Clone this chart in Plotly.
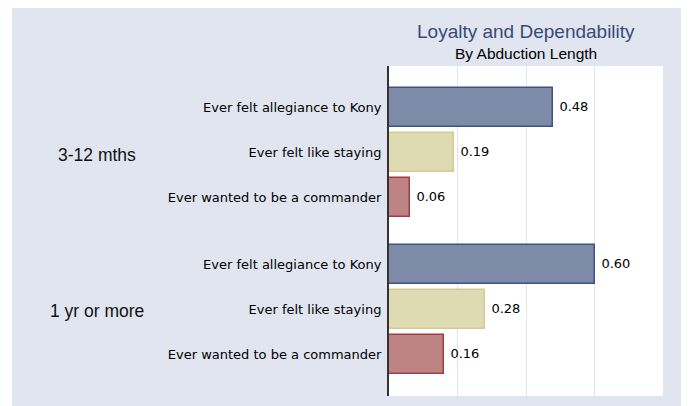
import plotly.graph_objects as go

groups = ["3-12 mths", "1 yr or more"]
items = ["Ever felt allegiance to Kony", "Ever felt like staying", "Ever wanted to be a commander"]
values = {
    "Ever felt allegiance to Kony": [0.48, 0.60],
    "Ever felt like staying": [0.19, 0.28],
    "Ever wanted to be a commander": [0.06, 0.16],
}
fills = ["#7D8AA8", "#DEDAB1", "#BE8484"]
borders = ["#3E5283", "#D2CB93", "#A63A44"]

GROUP_STEP = len(items) + 0.5
def pos(g, i):
    return g * GROUP_STEP + i

fig = go.Figure()
for i, item in enumerate(items):
    ys = [pos(g, i) for g in range(len(groups))]
    fig.add_trace(go.Bar(
        x=values[item], y=ys, orientation="h", width=0.88,
        marker=dict(color=fills[i], line=dict(color=borders[i], width=1.5)),
        text=values[item], texttemplate=" %{x:.2f}", textposition="outside",
        textfont=dict(family="DejaVu Sans", size=13, color="black"),
        cliponaxis=False, showlegend=False, hoverinfo="skip",
    ))

tickvals = [pos(g, i) for g in range(len(groups)) for i in range(len(items))]
ticktext = [items[i] for g in range(len(groups)) for i in range(len(items))]

panel = "#E0E5F0"
fig.update_layout(
    width=681, height=398,
    margin=dict(l=381, r=26, t=58, b=10),
    paper_bgcolor=panel, plot_bgcolor="white",
    bargap=0, barmode="overlay",
    xaxis=dict(range=[0, 0.8], tickvals=[0.2, 0.4, 0.6], showticklabels=False,
               showgrid=True, gridcolor="#E0E5F0", gridwidth=1, zeroline=False,
               showline=False, fixedrange=True),
    yaxis=dict(range=[tickvals[-1] + 0.93, -0.93], tickvals=tickvals, ticktext=ticktext,
               showgrid=False, zeroline=False, showline=True, linecolor="#333333",
               linewidth=2, ticks="", ticklabelstandoff=3,
               tickfont=dict(family="DejaVu Sans", size=13, color="black")),
    annotations=[
        dict(text="Loyalty and Dependability", x=0.5, y=1.104, xref="paper", yref="paper",
             showarrow=False, xanchor="center", yanchor="middle",
             font=dict(family="Liberation Sans", size=19, color="#3B4A78")),
        dict(text="By Abduction Length", x=0.5, y=1.039, xref="paper", yref="paper",
             showarrow=False, xanchor="center", yanchor="middle",
             font=dict(family="Liberation Sans", size=15.5, color="black")),
    ] + [
        dict(text=g, x=-1.066, y=pos(gi, 1), xref="paper", yref="y", showarrow=False,
             xanchor="center", yanchor="middle", yshift=-2,
             font=dict(family="Liberation Sans", size=17.5, color="#111111"))
        for gi, g in enumerate(groups)
    ],
    shapes=[
        dict(type="rect", xref="paper", yref="paper", x0=-1.5, x1=-1.376, y0=-0.1, y1=1.3,
             fillcolor="white", line=dict(width=0), layer="above"),
        dict(type="rect", xref="paper", yref="paper", x0=1.066, x1=1.2, y0=-0.1, y1=1.3,
             fillcolor="white", line=dict(width=0), layer="above"),
    ],
)

fig.write_html("out.html")
